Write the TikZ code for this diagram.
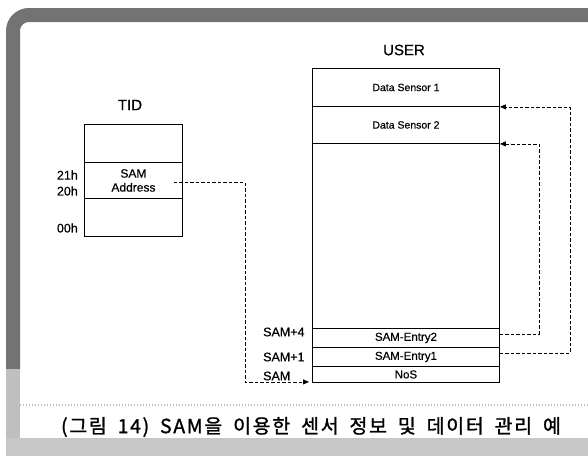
\documentclass[tikz,border=0pt]{standalone}
\usepackage{fontspec}
\setmainfont[FakeBold=0.5]{Liberation Sans}
\newfontfamily\cjk[LetterSpace=8.5, WordSpace=1.8, FakeBold=1.2]{Noto Sans CJK KR}
\usetikzlibrary{arrows.meta}
\begin{document}
\begin{tikzpicture}[x=1pt,y=-1pt,
  cell/.style={draw, line width=0.9pt, anchor=north west, inner sep=0pt, align=center, minimum width=187pt},
  tcell/.style={draw, line width=0.9pt, anchor=north west, inner sep=0pt, align=center, minimum width=98pt},
  conn/.style={line width=0.8pt, dash pattern=on 3.5pt off 2pt, -{Triangle[length=6pt,width=5pt]}},
  lbl/.style={inner sep=0pt, font=\fontsize{12.5}{14}\selectfont}]
\useasboundingbox (0,0) rectangle (588,456);
% frame
\draw[line width=14pt, black!55, rounded corners=16pt] (13,370) -- (13,15) -- (590,15);
\draw[line width=14pt, black!25] (13,369) -- (13,440);
\fill[black!22] (6,438) rectangle (588,456);
\draw[black!25, line width=1.5pt, dash pattern=on 1pt off 2pt] (20,405) -- (588,405);
% TID
\node[font=\fontsize{15}{16}\selectfont] (tid) at (130,105) {TID};
\node[tcell, minimum height=38pt] (tidtop) at (84,124) {};
\node[tcell, minimum height=36pt, font=\fontsize{12}{14}\selectfont] (tidsam) at (84,162) {SAM\\Address};
\node[tcell, minimum height=38pt] (tidbot) at (84,198) {};
\node[lbl, anchor=east] (l21) at (78,175) {21h};
\node[lbl, anchor=east] (l20) at (78,191) {20h};
\node[lbl, anchor=east] (l00) at (78,228) {00h};
% USER
\node[font=\fontsize{15}{16}\selectfont] (user) at (404,50) {USER};
\node[cell, minimum height=38pt, font=\fontsize{10.5}{12}\selectfont] (ds1) at (312,68) {Data Sensor 1};
\node[cell, minimum height=37pt, font=\fontsize{10.5}{12}\selectfont] (ds2) at (312,106) {Data Sensor 2};
\node[cell, minimum height=185pt] (mid) at (312,143) {};
\node[cell, minimum height=19pt, font=\fontsize{11.5}{12}\selectfont] (e2) at (312,328) {SAM-Entry2};
\node[cell, minimum height=19pt, font=\fontsize{11.5}{12}\selectfont] (e1) at (312,347) {SAM-Entry1};
\node[cell, minimum height=16pt, font=\fontsize{11.5}{12}\selectfont] (nos) at (312,366) {NoS};
\node[lbl, anchor=west] (s4) at (263,332) {SAM+4};
\node[lbl, anchor=west] (s1) at (263,357) {SAM+1};
\node[lbl, anchor=west] (s0l) at (263,376) {SAM};
% connectors
\coordinate (src) at ([xshift=-9pt,yshift=-2pt]tidsam.east);
\draw[conn, shorten >=3pt] (src) -- ++(71,0) |- ([yshift=1pt]nos.south west);
\draw[conn] ([yshift=4pt]e2.east) -- ++(39,0) |- (ds2.south east);
\draw[conn] ([yshift=3.5pt]e1.east) -- ++(70,0) |- (ds1.south east);
% caption
\node[font=\cjk\fontsize{19.5}{22}\selectfont, inner sep=0pt] (cap) at (311,427) {(그림 14) SAM을 이용한 센서 정보 및 데이터 관리 예};
\end{tikzpicture}
\end{document}
